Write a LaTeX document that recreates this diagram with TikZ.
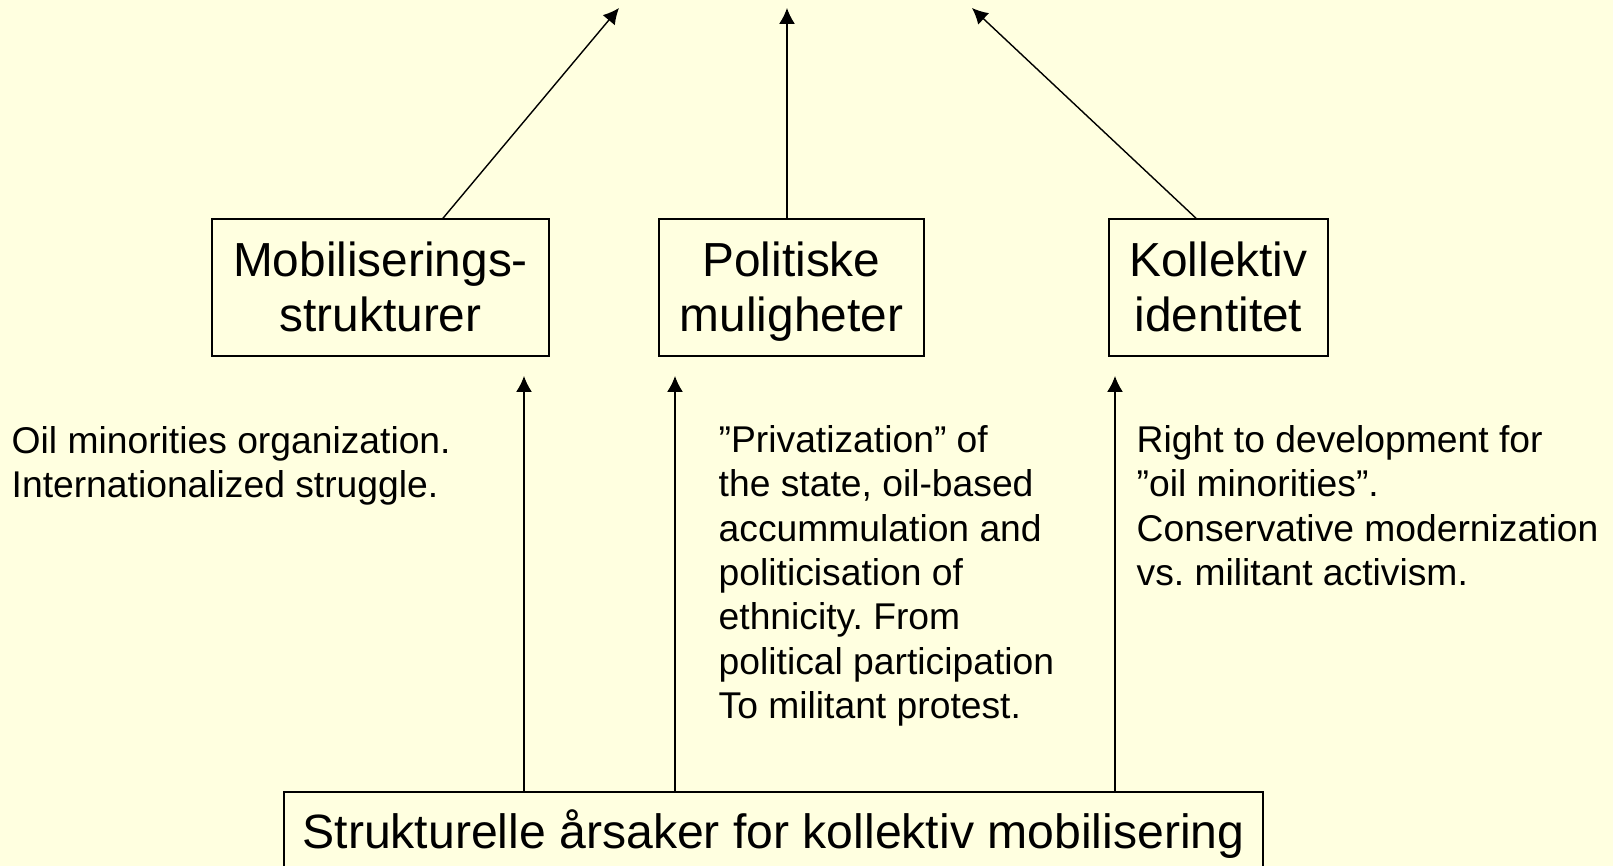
\documentclass[tikz,border=0pt]{standalone}
\usepackage{fontspec}
\setmainfont{Liberation Sans}
\usetikzlibrary{arrows.meta}
\definecolor{paleyellow}{RGB}{255,255,224}
\frenchspacing
\newcommand{\boxtop}{\rule{0pt}{12.2pt}}

\begin{document}
\begin{tikzpicture}[
    box/.style={draw, line width=0.45pt, inner sep=0pt, align=center,
        font=\fontsize{13.6}{15.8}\selectfont},
    note/.style={anchor=north west, inner sep=0pt, align=left,
        font=\fontsize{10.6}{12.6}\selectfont},
    arr/.style={line width=0.4pt, -{Latex[length=4.5pt,width=4.5pt]}}
]
    % Background and frame
    \fill[paleyellow] (0, 0) rectangle (16.13, 8.66);
    \useasboundingbox (0, 0) rectangle (16.13, 8.66);
    \clip (0, 0) rectangle (16.13, 8.66);

    % The three factors
    \node[box, minimum width=3.37cm, minimum height=1.37cm] (mob) at (3.805, 5.785) {\boxtop Mobiliserings-\\strukturer\vphantom{g}};
    \node[box, minimum width=2.65cm, minimum height=1.37cm] (pol) at (7.915, 5.785) {\boxtop Politiske\\muligheter};
    \node[box, minimum width=2.19cm, minimum height=1.37cm] (kol) at (12.185, 5.785) {\boxtop Kollektiv\\identitet\vphantom{g}};

    % Structural causes (runs off the bottom)
    \node[draw, line width=0.45pt, minimum width=9.79cm, minimum height=1.2cm] (str) at (7.735, 0.14) {};
    \node[anchor=base, inner sep=0pt, font=\fontsize{13.7}{17}\selectfont] (strtxt) at (7.735, 0.17) {Strukturelle årsaker for kollektiv mobilisering};

    % Free ends of the arrows
    \coordinate (top1) at (6.19, 8.58);
    \coordinate (top2) at (7.87, 8.58);
    \coordinate (top3) at (9.72, 8.58);
    \coordinate (up1) at (5.24, 4.90);
    \coordinate (up2) at (6.75, 4.90);
    \coordinate (up3) at (11.15, 4.90);

    % Arrows upwards from the factors
    \draw[arr] ([xshift=6.25mm]mob.north) -- (top1);
    \draw[arr] (pol.north -| top2) -- (top2);
    \draw[arr] ([xshift=-2.25mm]kol.north) -- (top3);

    % Arrows from the structural causes
    \draw[arr] (str.north -| up1) -- (up1);
    \draw[arr] (str.north -| up2) -- (up2);
    \draw[arr] (str.north -| up3) -- (up3);

    % Notes
    \node[note] (nmob) at (0.11, 4.40) {Oil minorities organization.\\Internationalized struggle.};
    \node[note] (npol) at (7.18, 4.41) {”Privatization” of\\the state, oil-based\\accummulation and\\politicisation of\\ethnicity. From\\political participation\\To militant protest.};
    \node[note] (nkol) at (11.36, 4.41) {Right to development for\\”oil minorities”.\\Conservative modernization\\vs. militant activism.};
\end{tikzpicture}
\end{document}
